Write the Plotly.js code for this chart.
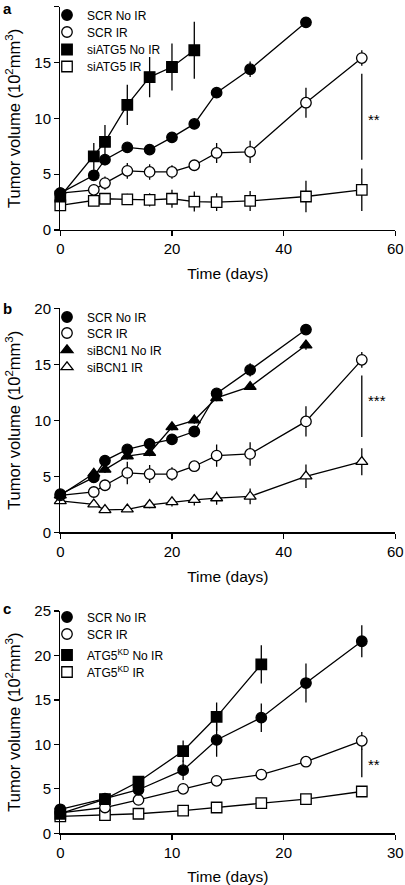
<!DOCTYPE html>
<html>
<head>
<meta charset="utf-8">
<script src="https://cdn.plot.ly/plotly-3.0.1.min.js"></script>
<style>
html,body{margin:0;padding:0;background:#fff;}
#chart{width:405px;height:885px;}
</style>
</head>
<body>
<div id="chart"></div>
<script>
// ---------- Panel a ----------
const a_days = [0, 6, 8, 12, 16, 20, 24, 28, 34, 44, 54];
const a_scrNoIR_days = [0, 6, 8, 12, 16, 20, 24, 28, 34, 44];
const a_scrNoIR = [3.3, 4.9, 6.3, 7.4, 7.2, 8.3, 9.5, 12.3, 14.4, 18.6];
const a_scrNoIR_err = [0.2, 0.5, 0.5, 0.3, 0.4, 0.3, 0.4, 0.3, 0.7, 0.2];
const a_scrIR = [3.3, 3.6, 4.2, 5.3, 5.2, 5.2, 5.8, 6.9, 7.0, 11.4, 15.4];
const a_scrIR_err = [0.2, 0.3, 0.6, 0.7, 0.7, 0.6, 0.3, 0.9, 1.0, 1.35, 0.7];
const a_siNoIR_days = [0, 6, 8, 12, 16, 20, 24];
const a_siNoIR = [3.0, 6.6, 7.9, 11.2, 13.7, 14.6, 16.1];
const a_siNoIR_err = [0.2, 1.2, 1.5, 1.8, 1.8, 2.1, 2.55];
const a_siIR = [2.2, 2.6, 2.8, 2.75, 2.7, 2.8, 2.55, 2.5, 2.6, 3.0, 3.6];
const a_siIR_err = [0.2, 0.3, 0.4, 0.5, 0.6, 0.8, 0.9, 0.8, 0.9, 1.4, 1.9];
const a_names = ["SCR No IR", "SCR IR", "siATG5 No IR", "siATG5 IR"];
const a_sig = {day: 54, top: 14.0, bottom: 6.3, label: "**", labelY: 9.9};

// ---------- Panel b ----------
const b_scrNoIR_days = [0, 6, 8, 12, 16, 20, 24, 28, 34, 44];
const b_scrNoIR = [3.4, 4.9, 6.4, 7.4, 7.9, 8.3, 9.0, 12.4, 14.5, 18.1];
const b_scrNoIR_err = [0.2, 0.3, 0.3, 0.3, 0.3, 0.3, 0.3, 0.3, 0.6, 0.3];
const b_scrIR_days = [0, 6, 8, 12, 16, 20, 24, 28, 34, 44, 54];
const b_scrIR = [3.3, 3.6, 4.2, 5.3, 5.2, 5.2, 5.9, 6.85, 7.0, 9.9, 15.4];
const b_scrIR_err = [0.2, 0.3, 0.5, 1.0, 0.8, 0.6, 0.3, 1.0, 1.05, 1.35, 0.7];
const b_bcnNoIR_days = [0, 6, 8, 12, 16, 20, 24, 28, 34, 44];
const b_bcnNoIR = [3.3, 5.25, 5.6, 6.8, 7.1, 9.4, 10.0, 12.0, 13.0, 16.7];
const b_bcnNoIR_err = [0.2, 0.3, 0.3, 0.3, 0.3, 0.3, 0.3, 0.3, 0.3, 0.4];
const b_bcnIR_days = [0, 6, 8, 12, 16, 20, 24, 28, 34, 44, 54];
const b_bcnIR = [2.8, 2.5, 2.0, 2.05, 2.45, 2.7, 2.9, 3.05, 3.2, 5.0, 6.3];
const b_bcnIR_err = [0.1, 0.2, 0.2, 0.2, 0.3, 0.4, 0.5, 0.6, 0.7, 1.05, 1.2];
const b_names = ["SCR No IR", "SCR IR", "siBCN1 No IR", "siBCN1 IR"];
const b_sig = {day: 54, top: 14.0, bottom: 8.5, label: "***", labelY: 11.8};

// ---------- Panel c ----------
const c_days = [0, 4, 7, 11, 14, 18, 22, 27];
const c_scrNoIR = [2.7, 3.9, 4.9, 7.1, 10.5, 13.0, 16.9, 21.6];
const c_scrNoIR_err = [0.2, 0.2, 0.3, 1.1, 1.9, 1.6, 2.2, 1.8];
const c_scrIR = [2.3, 2.9, 3.75, 5.0, 5.9, 6.6, 8.05, 10.4];
const c_scrIR_err = [0.1, 0.2, 0.2, 0.3, 0.3, 0.5, 0.6, 1.0];
const c_kdNoIR_days = [0, 4, 7, 11, 14, 18];
const c_kdNoIR = [2.2, 3.85, 5.8, 9.25, 13.1, 19.0];
const c_kdNoIR_err = [0.1, 0.3, 0.4, 1.2, 1.6, 2.15];
const c_kdIR = [1.9, 2.05, 2.2, 2.55, 2.9, 3.4, 3.85, 4.7];
const c_kdIR_err = [0.1, 0.1, 0.1, 0.2, 0.2, 0.2, 0.3, 0.6];
const c_names = ["SCR No IR", "SCR IR", "ATG5<sup>KD</sup> No IR", "ATG5<sup>KD</sup> IR"];
const c_sig = {day: 27, top: 9.5, bottom: 6.3, label: "**", labelY: 7.7};

// ---------- styling ----------
const FONT = "Liberation Sans, Arial, Helvetica, sans-serif";
const W = 405, H = 885;
const LW = 1.3;
function px2x(p){ return p / W; }
function px2y(p){ return 1 - p / H; }

function series(x, y, err, sym, filled, xa, ya){
  return {
    type: "scatter", mode: "lines+markers", x: x, y: y,
    xaxis: xa, yaxis: ya, showlegend: false, cliponaxis: false,
    line: {color: "black", width: LW},
    marker: {symbol: sym, size: 10.5, color: filled ? "black" : "white",
             line: {color: "black", width: LW}},
    error_y: {type: "data", array: err, visible: true, color: "black",
              thickness: LW, width: 0},
    hoverinfo: "skip"
  };
}
function legendEntry(name, sym, filled, xa, ya, legendId){
  return {
    type: "scatter", mode: "markers", x: [null], y: [null], name: name,
    xaxis: xa, yaxis: ya, showlegend: true, legend: legendId,
    marker: {symbol: sym, size: 10.5, color: filled ? "black" : "white",
             line: {color: "black", width: LW}}
  };
}

const traces = [
  // panel a
  series(a_days, a_siIR, a_siIR_err, "square", false, "x", "y"),
  series(a_siNoIR_days, a_siNoIR, a_siNoIR_err, "square", true, "x", "y"),
  series(a_days, a_scrIR, a_scrIR_err, "circle", false, "x", "y"),
  series(a_scrNoIR_days, a_scrNoIR, a_scrNoIR_err, "circle", true, "x", "y"),
  // panel b
  series(b_bcnIR_days, b_bcnIR, b_bcnIR_err, "triangle-up", false, "x2", "y2"),
  series(b_scrIR_days, b_scrIR, b_scrIR_err, "circle", false, "x2", "y2"),
  series(b_bcnNoIR_days, b_bcnNoIR, b_bcnNoIR_err, "triangle-up", true, "x2", "y2"),
  series(b_scrNoIR_days, b_scrNoIR, b_scrNoIR_err, "circle", true, "x2", "y2"),
  // panel c
  series(c_days, c_kdIR, c_kdIR_err, "square", false, "x3", "y3"),
  series(c_days, c_scrIR, c_scrIR_err, "circle", false, "x3", "y3"),
  series(c_kdNoIR_days, c_kdNoIR, c_kdNoIR_err, "square", true, "x3", "y3"),
  series(c_days, c_scrNoIR, c_scrNoIR_err, "circle", true, "x3", "y3")
];

const legendSyms = [["circle", true], ["circle", false], ["square", true], ["square", false]];
const legendSymsB = [["circle", true], ["circle", false], ["triangle-up", true], ["triangle-up", false]];
const panelLegendRows = [
  {names: a_names, syms: legendSyms, xa: "x", ya: "y", rows: [15, 32, 49.5, 66.5]},
  {names: b_names, syms: legendSymsB, xa: "x2", ya: "y2", rows: [317, 333, 350, 367]},
  {names: c_names, syms: legendSyms, xa: "x3", ya: "y3", rows: [617, 634, 655, 672]}
];

const layout = {
  width: W, height: H,
  margin: {l: 0, r: 0, t: 0, b: 0, pad: 0},
  paper_bgcolor: "white", plot_bgcolor: "white",
  font: {family: FONT, color: "black", size: 14},
  showlegend: true,
  shapes: [], annotations: []
};

let legendCount = 0;
panelLegendRows.forEach(function(p){
  p.names.forEach(function(nm, i){
    legendCount++;
    const id = legendCount === 1 ? "legend" : "legend" + legendCount;
    traces.push(legendEntry(nm, p.syms[i][0], p.syms[i][1], p.xa, p.ya, id));
    layout[id] = {
      x: px2x(47), xanchor: "left", y: px2y(p.rows[i]), yanchor: "middle",
      bgcolor: "rgba(0,0,0,0)", borderwidth: 0,
      font: {family: FONT, size: 12, color: "black"},
      itemwidth: 30
    };
  });
});

const plotX0 = 60.3, plotX1 = 395.3;
const panels = [
  {xa: "xaxis", ya: "yaxis", xr: [0, 60], xd: 20, yr: [0, 20], yd: 5, top: 6.7, bot: 230},
  {xa: "xaxis2", ya: "yaxis2", xr: [0, 60], xd: 20, yr: [0, 20], yd: 5, top: 308.3, bot: 532.3},
  {xa: "xaxis3", ya: "yaxis3", xr: [0, 30], xd: 10, yr: [0, 25], yd: 5, top: 611, bot: 833.3}
];
panels.forEach(function(p, i){
  const ysuffix = i === 0 ? "y" : "y" + (i + 1);
  const xsuffix = i === 0 ? "x" : "x" + (i + 1);
  layout[p.xa] = {
    domain: [px2x(plotX0), px2x(plotX1)], anchor: ysuffix,
    range: p.xr, dtick: p.xd, tick0: 0, showgrid: false, zeroline: false,
    showline: true, linecolor: "black", linewidth: LW,
    ticks: "outside", ticklen: 5, tickwidth: LW, tickcolor: "black",
    tickfont: {family: FONT, size: 15, color: "black"},
    title: {text: "Time (days)", font: {family: FONT, size: 15.5, color: "black"}, standoff: 12},
    fixedrange: true
  };
  layout[p.ya] = {
    domain: [px2y(p.bot), px2y(p.top)], anchor: xsuffix,
    range: p.yr, dtick: p.yd, tick0: 0, showgrid: false, zeroline: false,
    showline: true, linecolor: "black", linewidth: LW,
    ticks: "outside", ticklen: 5, tickwidth: LW, tickcolor: "black",
    tickfont: {family: FONT, size: 15, color: "black"},
    title: {text: "Tumor volume (10<sup>2</sup>mm<sup>3</sup>)", font: {family: FONT, size: 16.5, color: "black"}, standoff: 9},
    fixedrange: true
  };
});

// significance bars
[[a_sig, "x", "y"], [b_sig, "x2", "y2"], [c_sig, "x3", "y3"]].forEach(function(s){
  const g = s[0];
  layout.shapes.push({type: "line", xref: s[1], yref: s[2], x0: g.day, x1: g.day,
    y0: g.bottom, y1: g.top, line: {color: "black", width: LW}});
  layout.annotations.push({xref: s[1], yref: s[2], x: g.day, y: g.labelY, text: g.label,
    showarrow: false, xanchor: "left", xshift: 4, font: {family: FONT, size: 15, color: "black"}});
});

// panel letters
[["a", 8], ["b", 308], ["c", 608]].forEach(function(l){
  layout.annotations.push({xref: "paper", yref: "paper", x: px2x(1), y: px2y(l[1]),
    xanchor: "left", yanchor: "middle", text: "<b>" + l[0] + "</b>", showarrow: false,
    font: {family: FONT, size: 15, color: "black"}});
});

Plotly.newPlot("chart", traces, layout, {displayModeBar: false, staticPlot: true});
</script>
</body>
</html>
